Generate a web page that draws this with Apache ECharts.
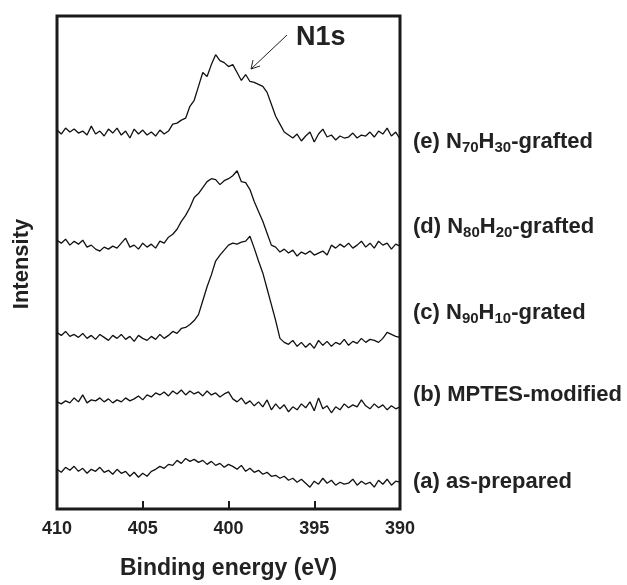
<!DOCTYPE html>
<html>
<head>
<meta charset="utf-8">
<script src="https://cdn.jsdelivr.net/npm/echarts@6/dist/echarts.min.js"></script>
<style>
  html, body { margin: 0; padding: 0; background: #fff; }
  #chart { width: 627px; height: 585px; }
</style>
</head>
<body>
<div id="chart"></div>
<script>
// 结合能 (eV)，从 410 到 390
const energy = [
  410, 409.75, 409.5, 409.25, 409, 408.75, 408.5, 408.25, 408, 407.75,
  407.5, 407.25, 407, 406.75, 406.5, 406.25, 406, 405.75, 405.5, 405.25,
  405, 404.75, 404.5, 404.25, 404, 403.75, 403.5, 403.25, 403, 402.75,
  402.5, 402.25, 402, 401.75, 401.5, 401.25, 401, 400.75, 400.5, 400.25,
  400, 399.75, 399.5, 399.25, 399, 398.75, 398.5, 398.25, 398, 397.75,
  397.5, 397.25, 397, 396.75, 396.5, 396.25, 396, 395.75, 395.5, 395.25,
  395, 394.75, 394.5, 394.25, 394, 393.75, 393.5, 393.25, 393, 392.75,
  392.5, 392.25, 392, 391.75, 391.5, 391.25, 391, 390.75, 390.5, 390.25,
  390
]
const xTicks = [410, 405, 400, 395, 390]

// 各曲线的强度（已叠加偏移）
const asPrepared = [
  40, 37, 42, 39, 43, 38, 41, 36, 40, 38, 42, 37, 39, 35, 40, 36, 38, 33, 37, 32,
  36, 33, 38, 40, 43, 41, 45, 44, 49, 46, 51, 48, 50, 47, 49, 45, 48, 44, 46, 42,
  45, 43, 40, 44, 38, 41, 37, 39, 35, 37, 33, 34, 31, 33, 29, 31, 27, 30, 26, 22,
  28, 25, 31, 26, 29, 24, 27, 25, 26, 30, 24, 28, 25, 27, 22, 29, 25, 30, 24, 28, 27
]
const mptes = [
  108, 106, 109, 107, 112, 108, 115, 107, 110, 109, 112, 108, 111, 107, 110, 108, 112, 109, 111, 114,
  110, 115, 113, 117, 115, 118, 114, 119, 116, 120, 115, 119, 116, 118, 114, 119, 115, 117, 113, 116,
  118, 111, 108, 112, 106, 109, 104, 108, 103, 110, 100, 106, 101, 105, 98, 103, 100, 106, 102, 108,
  99, 112, 101, 104, 97, 103, 100, 106, 102, 105, 103, 110, 104, 101, 106, 102, 105, 100, 104, 101, 103
]
const n90h10 = [
  178, 175, 179, 174, 176, 173, 177, 172, 175, 171, 176, 173, 170, 175, 172, 176, 171, 174, 169, 175,
  172, 170, 174, 171, 176, 172, 175, 179, 177, 182, 183, 186, 190, 196, 210, 224, 236, 250, 256, 261,
  266, 268, 267, 269, 270, 275, 263, 250, 238, 222, 206, 190, 172, 168, 166, 170, 164, 168, 163, 167,
  162, 170, 165, 169, 164, 168, 166, 171, 165, 169, 167, 172, 168, 171, 170, 168, 172, 178, 176, 174, 173
]
const n80h20 = [
  271, 268, 272, 266, 270, 267, 271, 264, 266, 262, 260, 264, 262, 265, 263, 268, 273, 264, 266, 262,
  268, 264, 267, 263, 270, 268, 274, 277, 282, 290, 296, 304, 314, 318, 324, 330, 333, 332, 327, 331,
  333, 336, 341, 330, 329, 322, 310, 300, 290, 278, 266, 264, 259, 262, 258, 261, 255, 259, 257, 260,
  256, 258, 260, 256, 266, 263, 267, 264, 268, 263, 266, 270, 264, 268, 263, 270, 266, 268, 262, 267, 265
]
const n70h30 = [
  382, 378, 384, 380, 383, 379, 381, 377, 386, 378, 381, 376, 383, 379, 384, 377, 381, 374, 383, 378,
  382, 377, 380, 376, 382, 378, 381, 388, 389, 392, 394, 406, 412, 426, 440, 436, 448, 458, 452, 450,
  446, 448, 440, 432, 438, 431, 430, 428, 426, 420, 408, 396, 388, 380, 377, 374, 378, 371, 376, 380,
  370, 378, 383, 375, 377, 372, 376, 374, 375, 379, 374, 377, 376, 380, 375, 381, 378, 384, 376, 380, 373
]

const curves = [asPrepared, mptes, n90h10, n80h20, n70h30]

const family = '"Liberation Sans", Arial, sans-serif'
const txtColor = '#222'

function pair(arr) {
  return energy.map((e, i) => [e, arr[i]])
}

// 右侧标签（带下标）
function label(y, rich) {
  return {
    type: 'text',
    x: 413,
    y: y,
    style: {
      rich: {
        n: { font: 'bold 22px ' + family, fill: txtColor, lineHeight: 26 },
        s: { font: 'bold 15px ' + family, fill: txtColor, lineHeight: 26, padding: [11, 0, 0, 0] }
      },
      text: rich,
      verticalAlign: 'middle'
    }
  }
}

let myChart = echarts.init(document.getElementById('chart'))
myChart.setOption({
  animation: false,
  backgroundColor: '#fff',
  grid: {
    left: 57,
    right: 227,
    top: 16,
    bottom: 72,
    show: true,
    borderColor: '#1a1a1a',
    borderWidth: 3
  },
  xAxis: {
    type: 'value',
    inverse: true,
    min: 390,
    max: 410,
    interval: 5,
    axisLine: { show: false },
    splitLine: { show: false },
    axisTick: { show: true, inside: true, length: 8, lineStyle: { color: '#1a1a1a', width: 2 } },
    axisLabel: {
      margin: 11,
      color: txtColor,
      fontSize: 18,
      fontWeight: 'bold',
      fontFamily: family,
      formatter: v => xTicks.includes(v) ? String(v) : ''
    },
    name: 'Binding energy (eV)',
    nameLocation: 'middle',
    nameGap: 48,
    nameTextStyle: {
      color: txtColor,
      fontSize: 23,
      fontWeight: 'bold',
      fontFamily: family
    }
  },
  yAxis: {
    type: 'value',
    min: 0,
    max: 497,
    show: false
  },
  series: curves.map(c => ({
    type: 'line',
    data: pair(c),
    showSymbol: false,
    smooth: false,
    lineStyle: { color: '#111', width: 1.3 }
  })),
  graphic: [
    {
      type: 'text',
      x: 22,
      y: 264,
      rotation: Math.PI / 2,
      style: {
        text: 'Intensity',
        font: 'bold 22px ' + family,
        fill: txtColor,
        align: 'center',
        verticalAlign: 'middle'
      }
    },
    {
      type: 'text',
      x: 296,
      y: 38,
      style: {
        text: 'N1s',
        font: 'bold 27px ' + family,
        fill: txtColor,
        verticalAlign: 'middle'
      }
    },
    {
      type: 'line',
      shape: { x1: 287, y1: 35, x2: 251, y2: 69 },
      style: { stroke: '#222', lineWidth: 1 }
    },
    {
      type: 'polyline',
      shape: { points: [[253, 60], [251, 69], [260, 66]] },
      style: { stroke: '#222', lineWidth: 1, fill: null }
    },
    label(142, '{n|(e) N}{s|70}{n|H}{s|30}{n|-grafted}'),
    label(227, '{n|(d) N}{s|80}{n|H}{s|20}{n|-grafted}'),
    label(313, '{n|(c) N}{s|90}{n|H}{s|10}{n|-grated}'),
    label(395, '{n|(b) MPTES-modified}'),
    label(482, '{n|(a) as-prepared}')
  ]
})
</script>
</body>
</html>
